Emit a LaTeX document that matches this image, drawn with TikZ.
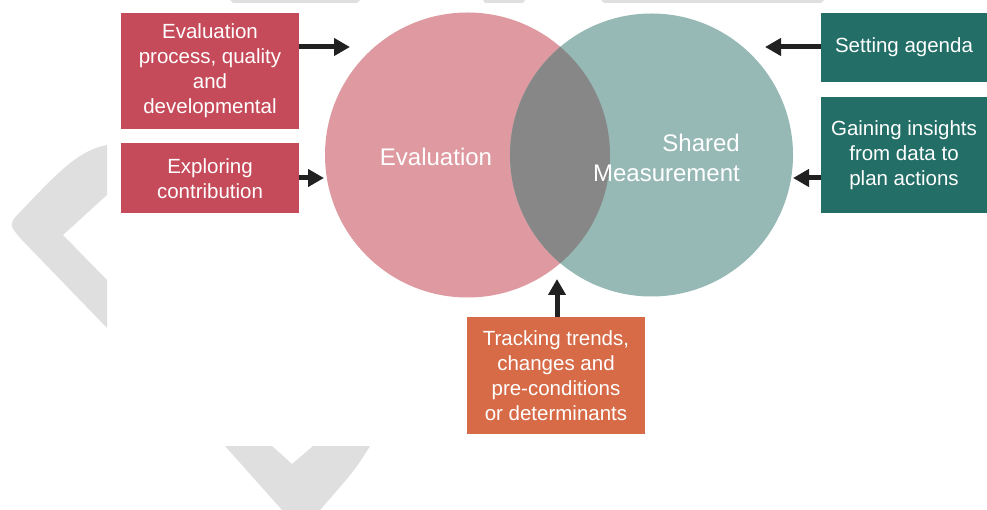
\documentclass[tikz,border=0pt]{standalone}
\usepackage{fontspec}
\setmainfont{Liberation Sans}
\usetikzlibrary{positioning,arrows.meta}
\definecolor{rosa}{HTML}{DE9AA0}
\definecolor{verdeclaro}{HTML}{97B9B6}
\definecolor{solape}{HTML}{878787}
\definecolor{rojo}{HTML}{C64B5A}
\definecolor{verdeoscuro}{HTML}{236E66}
\definecolor{naranja}{HTML}{D76B47}
\definecolor{fondogris}{HTML}{DFDFDF}
\definecolor{negro}{HTML}{212121}
\tikzset{
	caja/.style={rectangle, text=white, font=\fontsize{20.5}{25}\selectfont, 
		align=center, inner sep=0pt},
	cajaeval/.style={caja, fill=rojo, minimum width=178pt},
	cajamedida/.style={caja, fill=verdeoscuro, minimum width=166pt},
	cajatrend/.style={caja, fill=naranja, minimum width=178pt, minimum height=117pt},
	circulo/.style={circle, inner sep=0pt},
	etiqueta/.style={text=white, font=\fontsize{24}{30}\selectfont, inner sep=0pt},
	flecha/.style={draw=negro, line width=5pt, -{Triangle[length=16pt,width=17pt]}},
	fondo/.style={fill=fondogris}
}

\begin{document}
\begin{tikzpicture}[x=1pt, y=-1pt, node distance=14pt]
			\useasboundingbox (0,0) rectangle (987,510);
			
			% chevrons del fondo
			\fill[fondo] (107,145) .. controls (80,150) and (60,170) .. (24,208)
				.. controls (8,224) .. (22,240) -- (107,328) -- (107,280)
				-- (63,235) -- (107,195) -- cycle;
			\fill[fondo] (225,446) -- (272,446) -- (292,464) -- (313,446) -- (370,446)
				.. controls (355,470) .. (320,510) -- (282,510) -- cycle;
			\fill[fondo] (230,0) -- (360,0) -- (357,3) -- (233,3) -- cycle;
			\fill[fondo] (483,0) -- (525,0) -- (523,3) -- (485,3) -- cycle;
			\fill[fondo] (601,0) -- (824,0) -- (821,3) -- (604,3) -- cycle;
			
			% circulos
			\node[circulo, fill=rosa, minimum size=285pt] (eval) at (467.5,155) {};
			\node[circulo, fill=verdeclaro, minimum size=283pt] (shared) at (651.5,155) {};
			\begin{scope}
				\clip (467.5,155) circle (142.5pt);
				\fill[solape] (651.5,155) circle (141.5pt);
			\end{scope}
			\node[etiqueta] (evaltxt) at (436,157) {Evaluation};
			\node[etiqueta, align=right, anchor=east] (sharedtxt) at (740,158) {Shared\\Measurement};
			
			% cajas
			\node[cajaeval, minimum height=116pt] (proceso) at (210,71) {Evaluation\\process, quality\\and\\developmental};
			\node[cajaeval, minimum height=70pt, below=of proceso] (contrib) {Exploring\\contribution};
			
			\node[cajamedida, minimum height=69pt] (agenda) at (904,47.5) {Setting agenda};
			\node[cajamedida, minimum height=116pt, below=15pt of agenda] (insights) {Gaining insights\\from data to\\plan actions};
			
			\node[cajatrend] (trends) at (556,375.5) {Tracking trends,\\changes and\\pre-conditions\\or determinants};
			
			% flechas
			\coordinate (p1) at (350,47);
			\coordinate (p2) at (324,178);
			\coordinate (p3) at (765,47);
			\coordinate (p4) at (793,178);
			\coordinate (p5) at (557,279);
			\draw[flecha] (proceso.east |- p1) -- (p1);
			\draw[flecha] (contrib.east |- p2) -- (p2);
			\draw[flecha] (agenda.west |- p3) -- (p3);
			\draw[flecha] (insights.west |- p4) -- (p4);
			\draw[flecha] (trends.north -| p5) -- (p5);
		\end{tikzpicture}
\end{document}
